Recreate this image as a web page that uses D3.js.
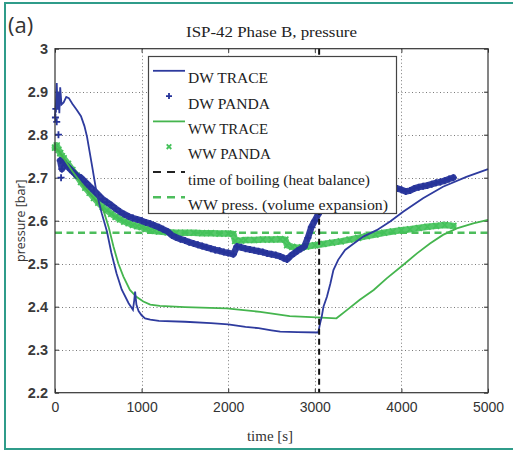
<!DOCTYPE html>
<html><head><meta charset="utf-8">
<script src="https://cdn.jsdelivr.net/npm/d3@7"></script>
<style>body{margin:0;background:#fff}svg{display:block}</style>
</head><body><svg id="c" width="513" height="452"></svg>
<script>
// ---------- data ----------
const xTicks=[0,1000,2000,3000,4000,5000];
const xTickLabels=["0","1000","2000","3000","4000","5000"];
const yTicks=[2.2,2.3,2.4,2.5,2.6,2.7,2.8,2.9,3.0];
const yTickLabels=["2.2","2.3","2.4","2.5","2.6","2.7","2.8","2.9","3"];

// [time s, pressure bar]
const dwTrace=[[0,2.84],[10,2.87],[20,2.92],[30,2.86],[40,2.90],[50,2.85],[60,2.91],[75,2.87],[100,2.875],[130,2.888],[160,2.885],[200,2.872],[250,2.858],[300,2.843],[340,2.82],[370,2.795],[400,2.76],[430,2.725],[480,2.665],[540,2.617],[600,2.575],[650,2.526],[710,2.478],[770,2.44],[850,2.408],[900,2.393],[915,2.415],[925,2.435],[940,2.405],[965,2.39],[1000,2.38],[1040,2.373],[1100,2.37],[1200,2.367],[1500,2.365],[1800,2.362],[2000,2.359],[2200,2.353],[2350,2.35],[2500,2.345],[2600,2.342],[2800,2.341],[3040,2.34],[3060,2.36],[3080,2.377],[3100,2.40],[3140,2.423],[3180,2.454],[3215,2.485],[3270,2.509],[3350,2.532],[3450,2.547],[3560,2.563],[3715,2.578],[3870,2.598],[4020,2.621],[4250,2.652],[4480,2.679],[4750,2.702],[5000,2.72]];

// isolated early DW PANDA points (before the continuous band)
const dwPandaEarly=[[5,2.84],[10,2.86],[20,2.83],[40,2.80],[70,2.70]];
const dwPanda=[[60,2.74],[80,2.72],[100,2.735],[120,2.73],[150,2.725],[200,2.715],[250,2.705],[300,2.70],[350,2.69],[400,2.68],[450,2.67],[500,2.66],[550,2.65],[600,2.643],[650,2.636],[700,2.628],[750,2.621],[800,2.615],[850,2.61],[900,2.606],[950,2.603],[1000,2.60],[1050,2.596],[1100,2.593],[1150,2.589],[1200,2.585],[1250,2.58],[1300,2.575],[1350,2.566],[1400,2.561],[1450,2.557],[1500,2.554],[1550,2.55],[1600,2.547],[1650,2.544],[1700,2.541],[1750,2.538],[1800,2.535],[1850,2.532],[1900,2.53],[1950,2.527],[2000,2.525],[2060,2.522],[2100,2.54],[2150,2.538],[2200,2.535],[2250,2.533],[2300,2.531],[2350,2.529],[2400,2.527],[2450,2.524],[2500,2.522],[2550,2.52],[2600,2.517],[2640,2.513],[2680,2.51],[2720,2.518],[2760,2.524],[2800,2.53],[2840,2.535],[2880,2.54],[2920,2.56],[2960,2.585],[3000,2.60],[3040,2.615],[3080,2.63],[3150,2.645],[3300,2.66],[3500,2.665],[3700,2.668],[3900,2.672],[3950,2.675],[4000,2.672],[4050,2.668],[4100,2.67],[4150,2.675],[4200,2.678],[4250,2.68],[4300,2.682],[4350,2.685],[4400,2.688],[4450,2.69],[4500,2.693],[4550,2.697],[4600,2.70]];

const wwPanda=[[0,2.77],[20,2.775],[40,2.765],[60,2.757],[80,2.75],[100,2.745],[150,2.732],[200,2.718],[250,2.705],[300,2.69],[350,2.677],[400,2.665],[450,2.653],[500,2.642],[550,2.632],[600,2.624],[650,2.616],[700,2.609],[750,2.603],[800,2.598],[850,2.594],[900,2.59],[950,2.587],[1000,2.585],[1050,2.581],[1100,2.578],[1150,2.576],[1200,2.575],[1300,2.573],[1400,2.572],[1500,2.572],[1600,2.572],[1700,2.571],[1800,2.571],[1900,2.57],[2000,2.57],[2060,2.569],[2080,2.553],[2150,2.554],[2200,2.555],[2300,2.555],[2400,2.556],[2500,2.556],[2600,2.557],[2660,2.556],[2680,2.543],[2740,2.539],[2800,2.537],[2850,2.538],[2900,2.54],[3000,2.543],[3100,2.546],[3200,2.549],[3300,2.552],[3400,2.556],[3500,2.56],[3600,2.564],[3700,2.568],[3800,2.572],[3900,2.575],[4000,2.578],[4100,2.58],[4200,2.583],[4300,2.586],[4400,2.588],[4500,2.59],[4600,2.588]];

const wwTrace=[[0,2.77],[50,2.76],[100,2.745],[200,2.715],[300,2.688],[400,2.663],[500,2.64],[560,2.624],[620,2.585],[675,2.54],[730,2.501],[790,2.47],[865,2.439],[940,2.423],[1020,2.412],[1100,2.405],[1210,2.402],[1500,2.399],[1980,2.396],[2370,2.388],[2710,2.378],[3020,2.375],[3250,2.373],[3370,2.392],[3520,2.416],[3680,2.439],[3830,2.466],[4020,2.497],[4180,2.524],[4330,2.547],[4480,2.567],[4640,2.582],[4830,2.594],[5000,2.602]];

const boilingTime=3050;
const volumeExpansionPressure=2.572;
const legendLabels=["DW TRACE","DW PANDA","WW TRACE","WW PANDA","time of boiling (heat balance)","WW press. (volume expansion)"];
const titleText="ISP-42 Phase B, pressure";

// ---------- styles ----------
const C={dw:"#2e3b9e",dwP:"#26339a",ww:"#45b54e",wwP:"#44c25a",wwDash:"#4dbd5c",teal:"#2f9c8a"};
const svg=d3.select("#c");
const L=55,R=488,T=48.7,B=392.7;
const x=d3.scaleLinear().domain([0,5000]).range([L,R]);
const y=d3.scaleLinear().domain([2.2,3.0]).range([B,T]);

// outer teal frame
svg.append("rect").attr("x",5).attr("y",3).attr("width",530).attr("height",446)
  .attr("fill","none").attr("stroke",C.teal).attr("stroke-width",2);

svg.append("text").attr("x",8).attr("y",33).text("(a)")
  .attr("font-family","Open Sans, sans-serif").attr("font-size",22).attr("fill","#333");

svg.append("text").attr("x",(L+R)/2).attr("y",37).attr("text-anchor","middle")
  .attr("font-family","Liberation Serif, serif").attr("font-size",14).attr("fill","#222")
  .attr("textLength",171).attr("lengthAdjust","spacingAndGlyphs").text(titleText);

// grid
const grid=svg.append("g").attr("stroke","#7a7a7a").attr("stroke-width",1).attr("stroke-dasharray","1,2.5");
grid.selectAll(".gx").data(xTicks.slice(1,-1)).join("line")
  .attr("x1",d=>Math.round(x(d))+0.5).attr("x2",d=>Math.round(x(d))+0.5).attr("y1",T).attr("y2",B);
grid.selectAll(".gy").data(yTicks.slice(1,-1)).join("line")
  .attr("y1",d=>Math.round(y(d))+0.5).attr("y2",d=>Math.round(y(d))+0.5).attr("x1",L).attr("x2",R);

// axes (ticks inside, matlab-style box)
function styleAxis(g){g.select(".domain").remove();g.selectAll(".tick line").attr("stroke","#333");}
svg.append("g").attr("transform",`translate(0,${B})`)
  .call(d3.axisBottom(x).tickValues(xTicks).tickSizeInner(-4).tickSizeOuter(0).tickPadding(9).tickFormat((d,i)=>xTickLabels[i]))
  .call(styleAxis).call(g=>g.selectAll("text").attr("font-family","Liberation Sans, Arial, sans-serif").attr("font-size",14).attr("fill","#333"));
svg.append("g").attr("transform",`translate(0,${T})`)
  .call(d3.axisTop(x).tickValues(xTicks).tickSizeInner(-4).tickSizeOuter(0).tickFormat(""))
  .call(styleAxis);
svg.append("g").attr("transform",`translate(${L},0)`)
  .call(d3.axisLeft(y).tickValues(yTicks).tickSizeInner(-4).tickSizeOuter(0).tickPadding(7).tickFormat((d,i)=>yTickLabels[i]))
  .call(styleAxis).call(g=>g.selectAll("text").attr("font-family","Liberation Sans, Arial, sans-serif").attr("font-size",14.5).attr("font-weight","bold").attr("fill","#3a3a3a"));
svg.append("g").attr("transform",`translate(${R},0)`)
  .call(d3.axisRight(y).tickValues(yTicks).tickSizeInner(-4).tickSizeOuter(0).tickFormat(""))
  .call(styleAxis);

const line=d3.line().x(d=>x(d[0])).y(d=>y(d[1]));
const plot=svg.append("g");

// reference line: volume expansion pressure
plot.append("line").attr("x1",L).attr("x2",R).attr("y1",y(volumeExpansionPressure)).attr("y2",y(volumeExpansionPressure))
  .attr("stroke",C.wwDash).attr("stroke-width",2.5).attr("stroke-dasharray","7,4.5");

// PANDA bands with markers
plot.append("path").datum(wwPanda).attr("d",line).attr("fill","none").attr("stroke",C.wwP)
  .attr("stroke-width",6.5).attr("stroke-linejoin","round").attr("stroke-linecap","round").attr("opacity",0.9);
plot.append("g").selectAll("path").data(wwPanda).join("path")
  .attr("transform",d=>`translate(${x(d[0])},${y(d[1])})`)
  .attr("d","M-3,-3L3,3M-3,3L3,-3").attr("stroke",C.wwP).attr("stroke-width",1.6);

plot.append("path").datum(dwPanda).attr("d",line).attr("fill","none").attr("stroke",C.dwP)
  .attr("stroke-width",6.5).attr("stroke-linejoin","round").attr("stroke-linecap","round").attr("opacity",0.95);
plot.append("g").selectAll("path").data(dwPanda.concat(dwPandaEarly)).join("path")
  .attr("transform",d=>`translate(${x(d[0])},${y(d[1])})`)
  .attr("d","M-3.5,0H3.5M0,-3.5V3.5").attr("stroke",C.dwP).attr("stroke-width",1.8);

// TRACE lines
plot.append("path").datum(wwTrace).attr("d",line).attr("fill","none").attr("stroke",C.ww).attr("stroke-width",1.8);
plot.append("path").datum(dwTrace).attr("d",line).attr("fill","none").attr("stroke",C.dw).attr("stroke-width",1.8);

// boiling time
plot.append("line").attr("x1",x(boilingTime)).attr("x2",x(boilingTime)).attr("y1",y(3.0)).attr("y2",B)
  .attr("stroke","#111").attr("stroke-width",2).attr("stroke-dasharray","6,4");

// frame
svg.append("rect").attr("x",L).attr("y",T).attr("width",R-L).attr("height",B-T)
  .attr("fill","none").attr("stroke","#333").attr("stroke-width",1.2);

// axis titles
svg.append("text").attr("transform",`translate(25,${(T+B)/2}) rotate(-90)`).attr("text-anchor","middle")
  .attr("font-family","Open Sans, sans-serif").attr("font-size",12.5).attr("fill","#333").text("pressure [bar]");
svg.append("text").attr("x",270).attr("y",441).attr("text-anchor","middle")
  .attr("font-family","Liberation Serif, serif").attr("font-size",15).attr("fill","#333").text("time [s]");

// legend
const lg=svg.append("g");
lg.append("rect").attr("x",148.5).attr("y",56.5).attr("width",248).attr("height",157)
  .attr("fill","#fff").attr("stroke","#444").attr("stroke-width",1.2);
const lw=[80,82,80,83,182,200];
const rows=legendLabels.map((t,i)=>({t,i,base:83.3+i*25.3}));
lg.selectAll("text").data(rows).join("text").attr("x",188).attr("y",d=>d.base).text(d=>d.t)
  .attr("font-family","Liberation Serif, serif").attr("font-size",15).attr("fill","#222")
  .attr("textLength",d=>lw[d.i]).attr("lengthAdjust","spacingAndGlyphs");
const sy=i=>rows[i].base-12.5;
lg.append("line").attr("x1",153).attr("x2",185).attr("y1",sy(0)).attr("y2",sy(0)).attr("stroke",C.dw).attr("stroke-width",1.8);
lg.append("path").attr("transform",`translate(169,${sy(1)})`).attr("d","M-3,0H3M0,-3V3").attr("stroke",C.dwP).attr("stroke-width",1.8);
lg.append("line").attr("x1",153).attr("x2",185).attr("y1",sy(2)).attr("y2",sy(2)).attr("stroke",C.ww).attr("stroke-width",1.8);
lg.append("path").attr("transform",`translate(169,${sy(3)})`).attr("d","M-2.3,-2.3L2.3,2.3M-2.3,2.3L2.3,-2.3").attr("stroke",C.wwP).attr("stroke-width",1.8);
lg.append("line").attr("x1",153).attr("x2",185).attr("y1",sy(4)).attr("y2",sy(4)).attr("stroke","#222").attr("stroke-width",2).attr("stroke-dasharray","8,6");
lg.append("line").attr("x1",153).attr("x2",185).attr("y1",sy(5)).attr("y2",sy(5)).attr("stroke",C.wwDash).attr("stroke-width",2.5).attr("stroke-dasharray","8,6");
</script></body></html>
